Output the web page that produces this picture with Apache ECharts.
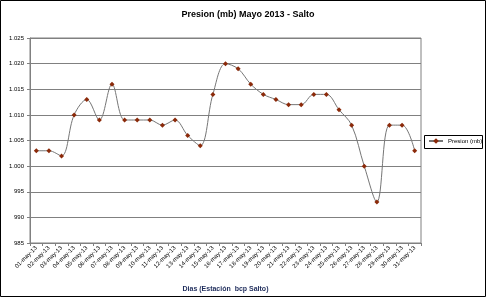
<!DOCTYPE html>
<html>
<head>
    <meta charset="utf-8">
    <title>Presion Mayo 2013 - Salto</title>
    <script src="https://cdn.jsdelivr.net/npm/echarts@6/dist/echarts.min.js"></script>
    <style>
        html, body { margin: 0; padding: 0; background: #fff; }
    </style>
</head>
<body>
    <div id="chart" style="width: 486px; height: 298px;"></div>

    <script>
    // dias del mes
    const days = [
        '01-may-13', '02-may-13', '03-may-13', '04-may-13', '05-may-13', '06-may-13',
        '07-may-13', '08-may-13', '09-may-13', '10-may-13', '11-may-13', '12-may-13',
        '13-may-13', '14-may-13', '15-may-13', '16-may-13', '17-may-13', '18-may-13',
        '19-may-13', '20-may-13', '21-may-13', '22-may-13', '23-may-13', '24-may-13',
        '25-may-13', '26-may-13', '27-may-13', '28-may-13', '29-may-13', '30-may-13',
        '31-may-13'
    ];
    // presion en mb
    const presion = [
        1003, 1003, 1002, 1010, 1013, 1009, 1016, 1009, 1009, 1009, 1008, 1009,
        1006, 1004, 1014, 1020, 1019, 1016, 1014, 1013, 1012, 1012, 1014, 1014,
        1011, 1008, 1000, 993, 1008, 1008, 1003
    ];
    const yMin = 985, yMax = 1025, yStep = 5;

    const chart = echarts.init(document.getElementById('chart'));
    const font = 'Liberation Sans, Arial, sans-serif';

    // etiquetas con punto de miles, como en la planilla original
    function fmt(v) {
        if (v >= 1000) {
            const r = String(v % 1000).padStart(3, '0');
            return Math.floor(v / 1000) + '.' + r;
        }
        return String(v);
    }

    chart.setOption({
        animation: false,
        backgroundColor: '#fff',
        textStyle: { fontFamily: font },
        title: {
            text: 'Presion (mb) Mayo 2013 - Salto',
            left: 243,
            top: 5,
            textAlign: 'center',
            textStyle: { fontSize: 9, fontWeight: 'bold', color: '#000', fontFamily: font }
        },
        graphic: [
            {
                type: 'rect',
                shape: { x: 0.5, y: 0.5, width: 485, height: 296 },
                style: { fill: 'none', stroke: '#000', lineWidth: 1 },
                silent: true
            },
            {
                type: 'rect',
                shape: { x: 424.5, y: 135.5, width: 58, height: 13 },
                style: { fill: '#fff', stroke: '#000', lineWidth: 1 },
                silent: true,
                z: 0
            }
        ],
        legend: {
            left: 428,
            top: 138,
            padding: 0,
            itemWidth: 14,
            itemHeight: 7,
            itemGap: 2,
            textStyle: { fontSize: 6, color: '#000', fontFamily: font },
            data: ['Presion (mb)']
        },
        grid: {
            left: 30,
            right: 65,
            top: 38,
            bottom: 55,
            show: true,
            borderColor: '#808080',
            borderWidth: 1
        },
        xAxis: {
            type: 'category',
            data: days,
            boundaryGap: true,
            name: 'Dias (Estación  bcp Salto)',
            nameLocation: 'middle',
            nameGap: 43,
            nameTextStyle: { fontSize: 7, fontWeight: 'bold', color: '#1f2d5c', fontFamily: font },
            axisLine: { lineStyle: { color: '#808080' } },
            axisTick: { show: true, alignWithLabel: false, length: 3, lineStyle: { color: '#808080' } },
            axisLabel: {
                interval: 0,
                rotate: 45,
                fontSize: 6,
                color: '#000',
                margin: 4
            },
            splitLine: { show: false }
        },
        yAxis: {
            type: 'value',
            min: yMin,
            max: yMax,
            interval: yStep,
            axisLine: { show: true, lineStyle: { color: '#808080' } },
            axisTick: { show: true, length: 3, lineStyle: { color: '#808080' } },
            axisLabel: { fontSize: 6, color: '#000', margin: 6, formatter: fmt },
            splitLine: { show: true, lineStyle: { color: '#808080', width: 1 } }
        },
        series: [
            {
                name: 'Presion (mb)',
                type: 'line',
                data: presion,
                smooth: 0.35,
                symbol: 'diamond',
                symbolSize: 5,
                lineStyle: { color: '#767676', width: 1 },
                itemStyle: { color: '#8b2a0a', borderWidth: 0 }
            }
        ]
    });
    </script>
</body>
</html>
